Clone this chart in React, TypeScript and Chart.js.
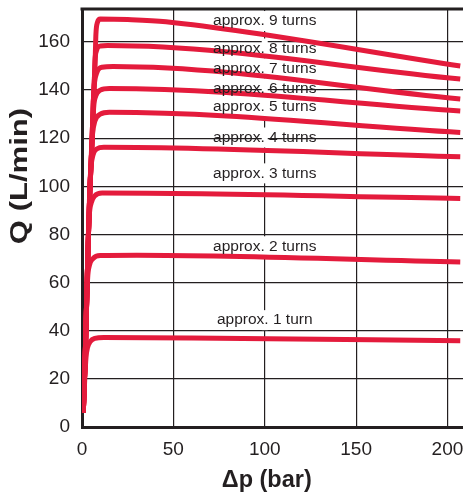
import React, { useEffect, useRef } from "react";
import { Chart, registerables } from "chart.js";

Chart.register(...registerables);

// Δp (bar) / Q (L/min) points, one list per setting
const turns1: number[][] = [[0.7, 6], [1.5, 20], [2.2, 29], [3, 33], [4.5, 35.5], [7, 36.8], [12, 37.2], [60, 37], [207, 35.8]];
const turns2: number[][] = [[0.7, 6], [1.6, 25], [2.5, 50], [3.1, 62], [4, 67], [6, 70], [10, 71.3], [30, 71.4], [207, 68.6]];
const turns3: number[][] = [[0.7, 6], [1.7, 28], [2.6, 55], [3.4, 77], [4, 88], [5, 93], [7, 96], [11, 97.2], [207, 95]];
const turns4: number[][] = [[0.7, 6], [1.8, 30], [2.8, 60], [3.6, 82], [4.3, 100], [4.9, 108], [6, 113], [8, 115.5], [12, 116.2], [207, 112.3]];
const turns5: number[][] = [[0.7, 6], [1.8, 30], [2.8, 60], [3.6, 82], [4.4, 100], [5.2, 115], [5.8, 122], [7, 127], [10, 130], [15, 130.8], [207, 122.4]];
const turns6: number[][] = [[0.7, 6], [1.8, 30], [2.8, 60], [3.6, 82], [4.4, 100], [5.3, 115], [5.9, 125], [6.4, 133], [7.5, 137.5], [10, 140], [15, 140.7], [207, 131.3]];
const turns7: number[][] = [[0.7, 6], [1.8, 30], [2.8, 60], [3.6, 82], [4.4, 100], [5.3, 115], [6.2, 135], [6.7, 142], [8, 147], [11, 149.5], [17, 149.8], [207, 136.3]];
const turns8: number[][] = [[0.7, 6], [1.8, 30], [2.8, 60], [3.6, 82], [4.4, 100], [5.3, 115], [6.2, 135], [6.8, 145], [7.1, 152], [8, 156.5], [10, 158.3], [14, 158.5], [207, 144.6]];
const turns9: number[][] = [[0.7, 6], [1.8, 30], [2.8, 60], [3.6, 82], [4.4, 100], [5.3, 115], [6.2, 135], [6.8, 145], [7.3, 155], [7.6, 163], [8.4, 168], [10, 169.5], [25, 169.3], [46, 168.4], [207, 150]];

const curves = [turns1, turns2, turns3, turns4, turns5, turns6, turns7, turns8, turns9];

const curveLabels = [
  "approx. 1 turn", "approx. 2 turns", "approx. 3 turns", "approx. 4 turns", "approx. 5 turns",
  "approx. 6 turns", "approx. 7 turns", "approx. 8 turns", "approx. 9 turns",
];
const labelQ = [44.4, 75.1, 105.4, 120.3, 133, 140.7, 149, 157.3, 168.7];
const labelDp = 100;

const xTicks = [0, 50, 100, 150, 200];
const yTicks = [0, 20, 40, 60, 80, 100, 120, 140, 160];
const xMax = 208.5;
const yMax = 173.7;

const RED = "#E41B3C";
const INK = "#231F20";
const FONT = "'Liberation Sans', Arial, Helvetica, sans-serif";

const decorPlugin = {
  id: "decor",
  beforeDatasetsDraw(chart: any) {
    const { ctx, chartArea, scales } = chart;
    const x = scales.x.getPixelForValue(labelDp);
    ctx.save();
    ctx.fillStyle = "#ffffff";
    labelQ.forEach((q) => {
      const y = scales.y.getPixelForValue(q);
      ctx.fillRect(x - 3, Math.max(chartArea.top + 2, y - 10), 6, 20);
    });
    ctx.restore();
  },
  afterDatasetsDraw(chart: any) {
    const { ctx, chartArea, scales } = chart;
    ctx.save();
    // top frame line
    ctx.strokeStyle = INK;
    ctx.lineWidth = 3;
    ctx.beginPath();
    ctx.moveTo(chartArea.left - 1.5, chartArea.top);
    ctx.lineTo(chartArea.right, chartArea.top);
    ctx.stroke();
    // curve labels
    ctx.fillStyle = INK;
    ctx.font = `15.5px ${FONT}`;
    ctx.textAlign = "center";
    ctx.textBaseline = "middle";
    const x = scales.x.getPixelForValue(labelDp);
    curveLabels.forEach((t, i) => {
      ctx.fillText(t, x, scales.y.getPixelForValue(labelQ[i]));
    });
    // axis titles
    ctx.font = `bold 23.5px ${FONT}`;
    ctx.fillText("\u0394p (bar)", x + 2, 481);
    ctx.save();
    ctx.translate(21, 176);
    ctx.rotate(-Math.PI / 2);
    ctx.scale(1.35, 1);
    ctx.font = `bold 23px ${FONT}`;
    ctx.fillText("Q (L/min)", 0, 0);
    ctx.restore();
    ctx.restore();
  },
};

export default function App() {
  const ref = useRef<HTMLCanvasElement | null>(null);
  useEffect(() => {
    if (!ref.current) return;
    const chart = new Chart(ref.current, {
      type: "scatter",
      data: {
        datasets: curves.map((c, i) => ({
          label: curveLabels[i],
          data: c.map(([x, y]) => ({ x, y })),
          showLine: true,
          borderColor: RED,
          backgroundColor: RED,
          borderWidth: 5,
          pointRadius: 0,
          cubicInterpolationMode: "monotone" as const,
          borderCapStyle: "butt" as const,
          borderJoinStyle: "round" as const,
        })),
      },
      options: {
        animation: false,
        responsive: true,
        maintainAspectRatio: false,
        layout: { padding: { top: 9, right: 0, left: 0, bottom: 0 } },
        plugins: { legend: { display: false }, tooltip: { enabled: false } },
        scales: {
          x: {
            type: "linear",
            min: 0,
            max: xMax,
            afterBuildTicks: (axis: any) => {
              axis.ticks = xTicks.map((v) => ({ value: v }));
            },
            afterFit: (axis: any) => {
              axis.height = 66;
              axis.paddingLeft = 0;
              axis.paddingRight = 0;
            },
            ticks: { color: INK, font: { family: FONT, size: 19 }, padding: 11 },
            grid: { color: INK, lineWidth: 1.2, drawTicks: false },
            border: { color: INK, width: 3 },
          },
          y: {
            type: "linear",
            min: 0,
            max: yMax,
            afterBuildTicks: (axis: any) => {
              axis.ticks = yTicks.map((v) => ({ value: v }));
            },
            afterFit: (axis: any) => {
              axis.width = 82;
              axis.paddingTop = 0;
              axis.paddingBottom = 0;
            },
            ticks: { color: INK, font: { family: FONT, size: 19 }, padding: 12 },
            grid: { color: INK, lineWidth: 1.2, drawTicks: false },
            border: { color: INK, width: 3 },
          },
        },
      },
      plugins: [decorPlugin],
    });
    return () => chart.destroy();
  }, []);
  return (
    <div style={{ position: "fixed", left: 0, top: 0, width: 463, height: 493, background: "#fff" }}>
      <canvas ref={ref} />
    </div>
  );
}
